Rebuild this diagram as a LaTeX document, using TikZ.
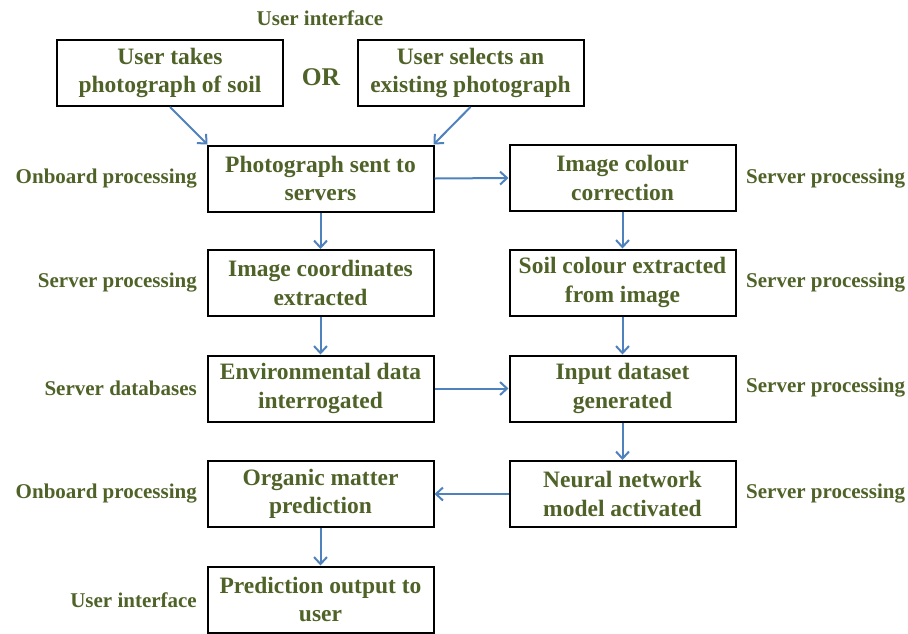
\documentclass[tikz,border=0pt]{standalone}
\usepackage{fontspec}
\setmainfont{Liberation Serif}
\usetikzlibrary{arrows.meta}
\definecolor{txt}{HTML}{4F6228}
\definecolor{arr}{HTML}{4F81BD}
\begin{document}
\begin{tikzpicture}[x=1pt,y=-1pt,
  box/.style={draw=black,line width=2pt,minimum width=226pt,minimum height=66pt,
    align=center,text=txt,font=\fontsize{23.5}{28.5}\selectfont\bfseries,inner sep=0pt},
  lbl/.style={text=txt,font=\fontsize{21}{24}\selectfont\bfseries,inner sep=0pt},
  conn/.style={draw=arr,line width=2pt,-{Straight Barb[length=7pt,width=13pt,line width=2pt]}}]
\useasboundingbox (0,0) rectangle (908,633);
\node[lbl] (ui) at (320,18) {User interface};
\node[box] (a) at (170,73) {User takes\\photograph of soil};
\node[box] (b) at (470.5,73) {User selects an\\existing photograph};
\node[text=txt,font=\fontsize{25.5}{28}\selectfont\bfseries,inner sep=0pt] (or) at (321,77) {OR};
\node[box] (c) at (320.5,178.5) {Photograph sent to\\servers};
\node[box] (d) at (622.5,178) {Image colour\\correction};
\node[box] (e) at (320.5,283) {Image coordinates\\extracted};
\node[box] (f) at (622.5,282.5) {Soil colour extracted\\from image};
\node[box] (g) at (320.5,388.5) {Environmental data\\interrogated};
\node[box] (h) at (622.5,388.5) {Input dataset\\generated};
\node[box] (i) at (320.5,494) {Organic matter\\prediction};
\node[box] (j) at (622.5,494) {Neural network\\model activated};
\node[box] (k) at (320.5,599.5) {Prediction output to\\user};
% left labels
\node[lbl,anchor=east] (l1) at (197,179) {Onboard processing};
\node[lbl,anchor=east] (l2) at (197,283) {Server processing};
\node[lbl,anchor=east] (l3) at (197,388) {Server databases};
\node[lbl,anchor=east] (l4) at (197,494) {Onboard processing};
\node[lbl,anchor=east] (l5) at (197,600) {User interface};
% right labels
\node[lbl,anchor=west] (r1) at (746,179) {Server processing};
\node[lbl,anchor=west] (r2) at (746,283) {Server processing};
\node[lbl,anchor=west] (r3) at (746,388) {Server processing};
\node[lbl,anchor=west] (r4) at (746,494) {Server processing};
% connectors
\draw[conn] (a.south) -- ([xshift=-113pt]c.north);
\draw[conn] (b.south) -- ([xshift=113pt]c.north);
\draw[conn] (c.east) -- (d.west);
\draw[conn] (c.south) -- (e.north);
\draw[conn] (d.south) -- (f.north);
\draw[conn] (e.south) -- (g.north);
\draw[conn] (f.south) -- (h.north);
\draw[conn] (g.east) -- (h.west);
\draw[conn] (h.south) -- (j.north);
\draw[conn] (j.west) -- (i.east);
\draw[conn] (i.south) -- (k.north);
\end{tikzpicture}
\end{document}
